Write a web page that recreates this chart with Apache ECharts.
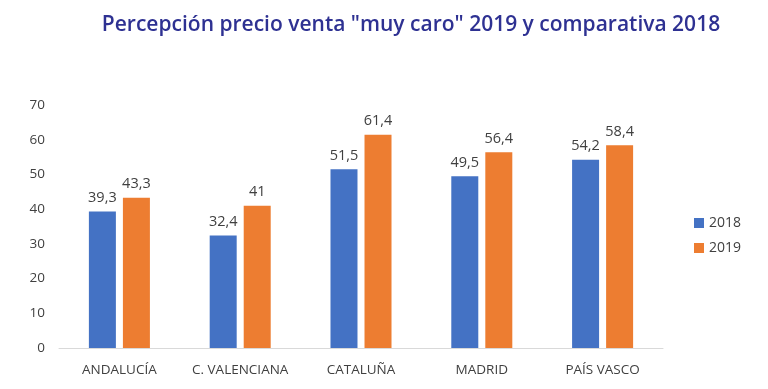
<!DOCTYPE html>
<html><head><meta charset="utf-8">
<script src="https://cdn.jsdelivr.net/npm/echarts@6/dist/echarts.min.js"></script>
<style>html,body{margin:0;padding:0;background:#fff}#c{width:768px;height:389px}</style>
</head><body><div id="c"></div>
<script>
const categories = ['ANDALUCÍA', 'C. VALENCIANA', 'CATALUÑA', 'MADRID', 'PAÍS VASCO'];
const values2018 = [39.3, 32.4, 51.5, 49.5, 54.2];
const values2019 = [43.3, 41, 61.4, 56.4, 58.4];
const seriesNames = ['2018', '2019'];
const titleText = 'Percepción precio venta "muy caro" 2019 y comparativa 2018';

const chart = echarts.init(document.getElementById('c'));
const fmt = p => String(p.value).replace('.', ',');
const font = 'Open Sans';
chart.setOption({
  animation: false,
  title: {
    text: titleText, left: 406, top: 10, textAlign: 'center',
    textStyle: {fontFamily: font, fontWeight: 600, fontSize: 21, color: '#2E3192'}
  },
  legend: {
    orient: 'vertical', left: 689, top: 211, itemGap: 11,
    itemWidth: 10, itemHeight: 10, icon: 'rect',
    textStyle: {fontFamily: font, fontSize: 14, color: '#404040'},
    data: seriesNames
  },
  grid: {left: 59, right: 105, top: 105, bottom: 41},
  xAxis: {
    type: 'category', data: categories,
    axisLine: {lineStyle: {color: '#D9D9D9', width: 1}},
    axisTick: {show: false},
    axisLabel: {fontFamily: font, fontSize: 13.5, color: '#404040', margin: 15, interval: 0}
  },
  yAxis: {
    type: 'value', min: 0, max: 70, interval: 10,
    splitLine: {show: false},
    axisLabel: {fontFamily: font, fontSize: 13.5, color: '#404040', margin: 14}
  },
  series: [
    {name: seriesNames[0], type: 'bar', data: values2018, barWidth: 27, barGap: '26%',
     itemStyle: {color: '#4472C4'},
     label: {show: true, position: 'top', formatter: fmt, fontFamily: font, fontSize: 14.5, color: '#404040', distance: 6}},
    {name: seriesNames[1], type: 'bar', data: values2019, barWidth: 27,
     itemStyle: {color: '#ED7D31'},
     label: {show: true, position: 'top', formatter: fmt, fontFamily: font, fontSize: 14.5, color: '#404040', distance: 6}}
  ]
});
</script></body></html>
